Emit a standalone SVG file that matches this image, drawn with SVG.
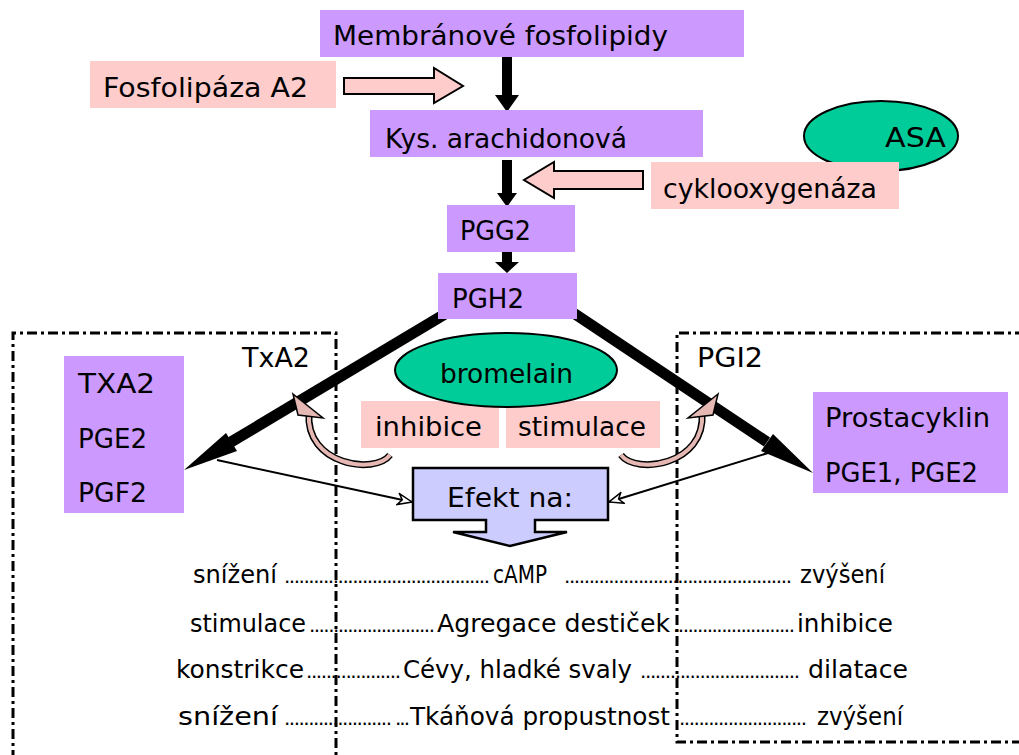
<svg xmlns="http://www.w3.org/2000/svg" width="1019" height="755" viewBox="0 0 1019 755">
<defs>
<style>
text { font-family: "DejaVu Sans", "Liberation Sans", sans-serif; fill:#000; }
.t25 { font-size:26px; }
.t26 { font-size:27px; }
.t23 { font-size:24px; }
.dots { font-size:20px; }
.purple { fill:#CC99FF; }
.pink { fill:#FFCCCC; }
.green { fill:#00CC99; stroke:#000; stroke-width:2; }
.hollow { fill:#FFCCCC; stroke:#000; stroke-width:2; }
.blk { fill:#000; }
.region { fill:none; stroke:#000; stroke-width:3; stroke-dasharray:10 4 3 4; }
.thick { stroke:#000; stroke-width:11; fill:none; }
.thin { stroke:#000; stroke-width:2; fill:none; marker-end:url(#open); }
.curveOut { stroke:#000; stroke-width:7; fill:none; }
.curveIn { stroke:#E6B8B4; stroke-width:4; fill:none; }
.curveHead { fill:#E6B8B4; stroke:#000; stroke-width:1.5; stroke-linejoin:miter; }
.callout { fill:#CCCCFF; stroke:#000; stroke-width:2.5; }
</style>
<marker id="open" markerUnits="userSpaceOnUse" markerWidth="16" markerHeight="14" viewBox="0 0 16 14" refX="15" refY="7" orient="auto">
<path d="M1,1.5 L15,7 L1,12.5 L5,7 Z" fill="#fff" stroke="#000" stroke-width="1.5"/>
</marker>
</defs>
<rect x="0" y="0" width="1019" height="755" fill="#fff"/>

<g id="regions">
<path class="region" d="M13,760 L13,333 L336,333 L336,760"/>
<path class="region" d="M1025,333 L677,333 L677,742 L1025,742"/>
<text class="t25" x="242" y="367" textLength="68" lengthAdjust="spacingAndGlyphs">TxA2</text>
<text class="t25" x="697" y="367" textLength="66" lengthAdjust="spacingAndGlyphs">PGI2</text>
</g>

<g id="connectors">
<polygon class="blk" points="502,57 512,57 512,95 519,95 507,112 495,95 502,95"/>
<polygon class="blk" points="502,160 512,160 512,193 517,193 507,207 497,193 502,193"/>
<polygon class="blk" points="502,252 512,252 512,262 519,262 507,273 495,262 502,262"/>
<polygon class="hollow" points="344,78 434,78 434,68 463,86 434,103 434,94 344,94"/>
<polygon class="hollow" points="643,171 554,171 554,162 524,180 554,198 554,189 643,189"/>
<line class="thick" x1="445" y1="314" x2="231" y2="442"/>
<polygon class="blk" points="184,470 237,451 226,433"/>
<line class="thick" x1="572" y1="312" x2="767" y2="442"/>
<polygon class="blk" points="813,473 761,451 773,434"/>
<line class="thin" x1="217" y1="460" x2="412" y2="502"/>
<line class="thin" x1="768" y1="453" x2="609" y2="502"/>
<g id="inhibiceArrow">
<path class="curveOut" d="M390,455 C375,475 305,465 309,413"/>
<path class="curveIn" d="M390,455 C375,475 305,465 309,413"/>
<polygon class="curveHead" points="293,394 323,418 298,415"/>
</g>
<g id="stimulaceArrow">
<path class="curveOut" d="M621,455 C636,475 706,465 702,413"/>
<path class="curveIn" d="M621,455 C636,475 706,465 702,413"/>
<polygon class="curveHead" points="718,394 688,418 713,415"/>
</g>
</g>

<g id="membranove">
<rect class="purple" x="320" y="10" width="424" height="47"/>
<text class="t25" x="333" y="45" textLength="335" lengthAdjust="spacingAndGlyphs">Membránové fosfolipidy</text>
</g>
<g id="fosfolipaza">
<rect class="pink" x="90" y="61" width="246" height="47"/>
<text class="t25" x="103" y="97" textLength="205" lengthAdjust="spacingAndGlyphs">Fosfolipáza A2</text>
</g>
<g id="kyselina">
<rect class="purple" x="370" y="110" width="333" height="47"/>
<text class="t25" x="385" y="148" textLength="242" lengthAdjust="spacingAndGlyphs">Kys. arachidonová</text>
</g>
<g id="asa">
<ellipse class="green" cx="881" cy="136" rx="77" ry="35"/>
<text class="t25" x="885" y="147" textLength="61" lengthAdjust="spacingAndGlyphs">ASA</text>
</g>
<g id="cyklooxygenaza">
<rect class="pink" x="651" y="162" width="248" height="47"/>
<text class="t25" x="663" y="198" textLength="214" lengthAdjust="spacingAndGlyphs">cyklooxygenáza</text>
</g>
<g id="pgg2">
<rect class="purple" x="447" y="205" width="128" height="47"/>
<text class="t25" x="460" y="240" textLength="71" lengthAdjust="spacingAndGlyphs">PGG2</text>
</g>
<g id="pgh2">
<rect class="purple" x="438" y="273" width="139" height="46"/>
<text class="t25" x="452" y="308" textLength="72" lengthAdjust="spacingAndGlyphs">PGH2</text>
</g>
<g id="txa2box">
<rect class="purple" x="64" y="356" width="120" height="157"/>
<text class="t26" x="78" y="393" textLength="77" lengthAdjust="spacingAndGlyphs">TXA2</text>
<text class="t26" x="78" y="448" textLength="69" lengthAdjust="spacingAndGlyphs">PGE2</text>
<text class="t26" x="78" y="502" textLength="69" lengthAdjust="spacingAndGlyphs">PGF2</text>
</g>
<g id="inhibice">
<rect class="pink" x="361" y="401" width="138" height="47"/>
<text class="t25" x="375" y="436" textLength="107" lengthAdjust="spacingAndGlyphs">inhibice</text>
</g>
<g id="stimulace">
<rect class="pink" x="506" y="401" width="154" height="47"/>
<text class="t25" x="518" y="436" textLength="128" lengthAdjust="spacingAndGlyphs">stimulace</text>
</g>
<g id="bromelain">
<ellipse class="green" cx="506" cy="370" rx="111" ry="37"/>
<text class="t25" x="440" y="383" textLength="133" lengthAdjust="spacingAndGlyphs">bromelain</text>
</g>
<g id="prostacyklin">
<rect class="purple" x="813" y="392" width="195" height="101"/>
<text class="t26" x="825" y="427" textLength="165" lengthAdjust="spacingAndGlyphs">Prostacyklin</text>
<text class="t26" x="825" y="482" textLength="153" lengthAdjust="spacingAndGlyphs">PGE1, PGE2</text>
</g>
<g id="efekt">
<polygon class="callout" points="413,468 608,468 608,520 535,520 535,532 567,532 510,546 453,532 486,532 486,520 413,520"/>
<text class="t25" x="447" y="507" textLength="126" lengthAdjust="spacingAndGlyphs">Efekt na:</text>
</g>

<g id="effects">
<text class="t23" x="193" y="583" textLength="84" lengthAdjust="spacingAndGlyphs">snížení</text>
<text class="dots" x="284" y="583" textLength="206" lengthAdjust="spacing">..........................................</text>
<text class="t23" x="493" y="583" textLength="54" lengthAdjust="spacingAndGlyphs">cAMP</text>
<text class="dots" x="564" y="583" textLength="228" lengthAdjust="spacing">..............................................</text>
<text class="t23" x="800" y="583" textLength="85" lengthAdjust="spacingAndGlyphs">zvýšení</text>

<text class="t23" x="190" y="632" textLength="116" lengthAdjust="spacingAndGlyphs">stimulace</text>
<text class="dots" x="309" y="632" textLength="126" lengthAdjust="spacing">..........................</text>
<text class="t23" x="437" y="632" textLength="233" lengthAdjust="spacingAndGlyphs">Agregace destiček</text>
<text class="dots" x="673" y="632" textLength="122" lengthAdjust="spacing">.........................</text>
<text class="t23" x="797" y="632" textLength="96" lengthAdjust="spacingAndGlyphs">inhibice</text>

<text class="t23" x="176" y="678" textLength="128" lengthAdjust="spacingAndGlyphs">konstrikce</text>
<text class="dots" x="306" y="678" textLength="95" lengthAdjust="spacing">...................</text>
<text class="t23" x="403" y="678" textLength="229" lengthAdjust="spacingAndGlyphs">Cévy, hladké svaly</text>
<text class="dots" x="640" y="678" textLength="160" lengthAdjust="spacing">................................</text>
<text class="t23" x="808" y="678" textLength="100" lengthAdjust="spacingAndGlyphs">dilatace</text>

<text class="t23" x="178" y="725" textLength="100" lengthAdjust="spacingAndGlyphs">snížení</text>
<text class="dots" x="284" y="725" textLength="108" lengthAdjust="spacing">......................</text>
<text class="dots" x="395" y="725" textLength="15" lengthAdjust="spacing">...</text>
<text class="t23" x="410" y="725" textLength="260" lengthAdjust="spacingAndGlyphs">Tkáňová propustnost</text>
<text class="dots" x="679" y="725" textLength="128" lengthAdjust="spacing">..........................</text>
<text class="t23" x="817" y="725" textLength="86" lengthAdjust="spacingAndGlyphs">zvýšení</text>
</g>
</svg>
